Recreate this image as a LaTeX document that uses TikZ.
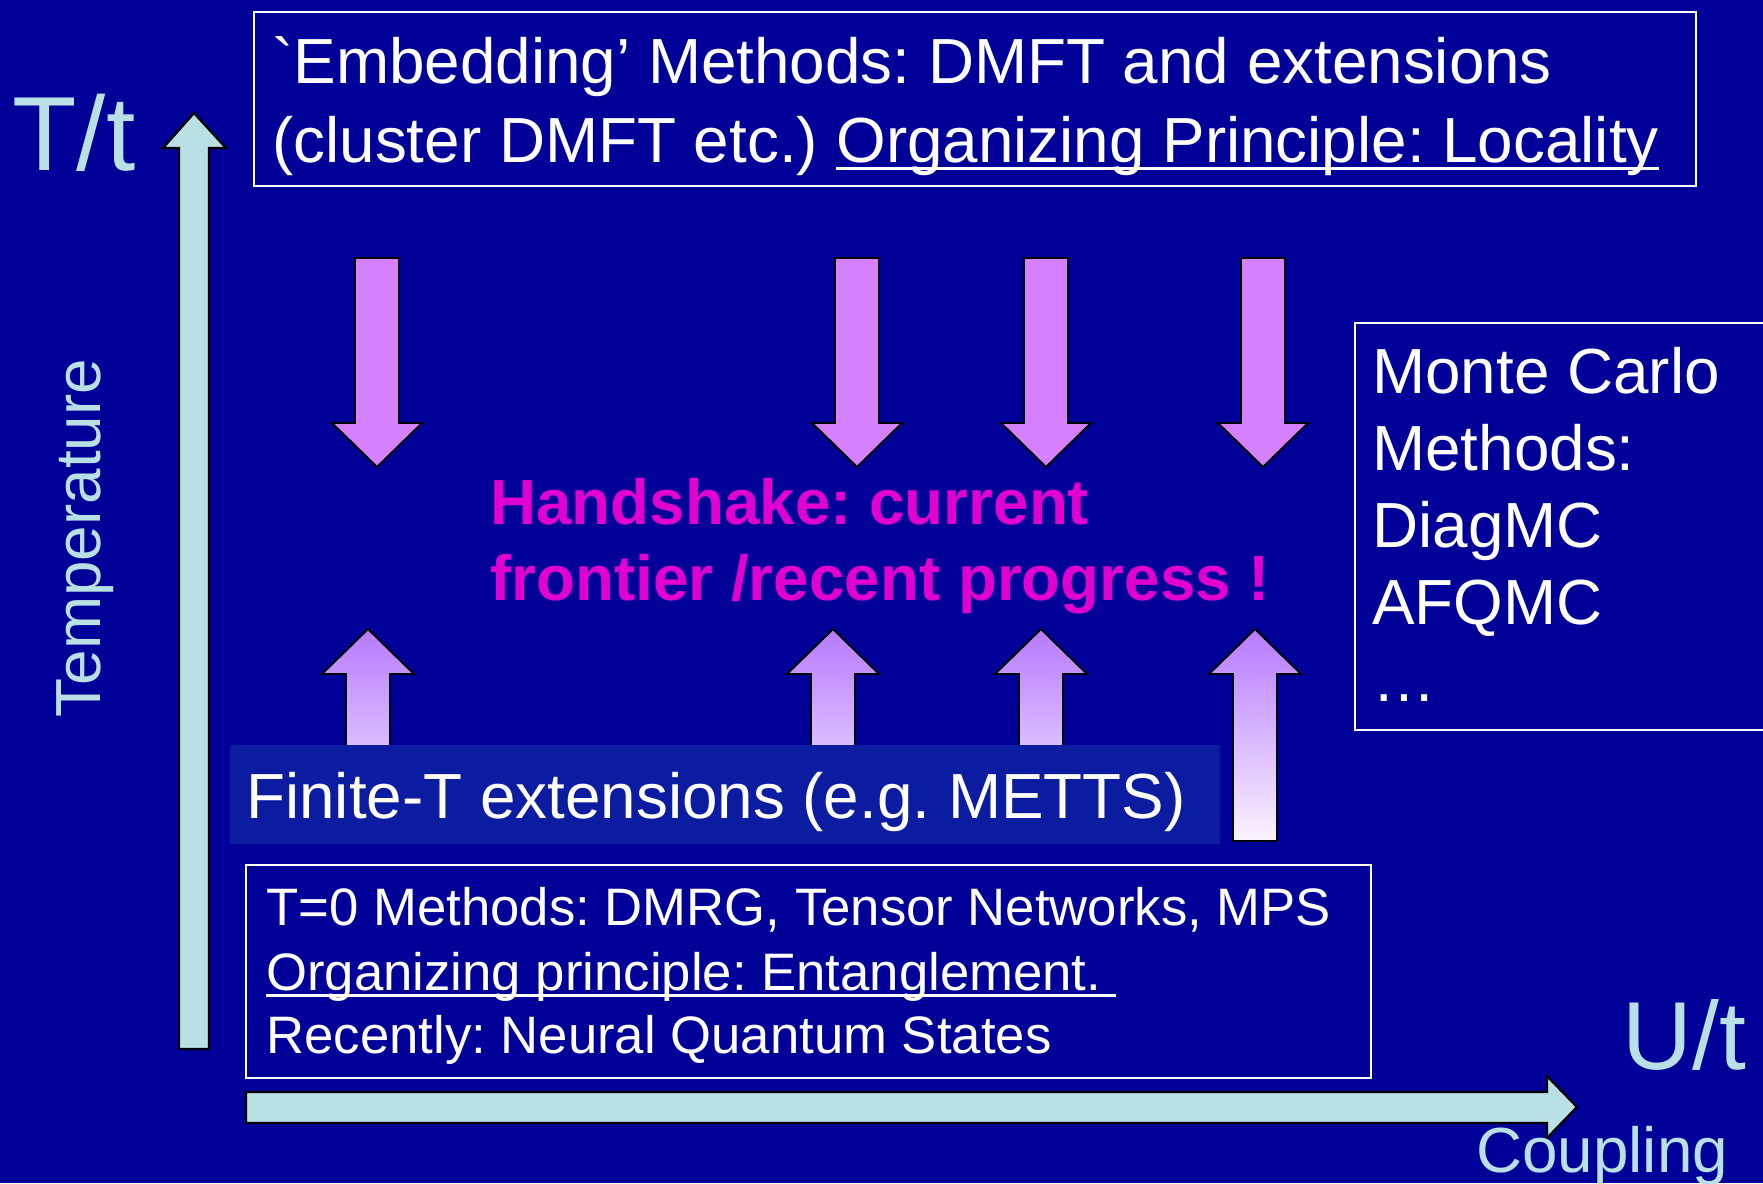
\documentclass[tikz,border=0pt]{standalone}
\usepackage{fontspec}
\setmainfont{Liberation Sans}
\usetikzlibrary{positioning}
\frenchspacing

\definecolor{slidebg}{RGB}{0,0,153}
\definecolor{axiscyan}{RGB}{185,224,228}
\definecolor{handpink}{RGB}{224,0,208}
\definecolor{downpink}{RGB}{213,128,255}
\definecolor{uptop}{RGB}{182,122,255}
\definecolor{upbot}{RGB}{250,243,255}
\definecolor{finitebg}{RGB}{12,28,160}

\tikzset{
  txt/.style={inner sep=0pt, text=white, anchor=base west, font=\fontsize{36.3}{43}\selectfont},
  smalltxt/.style={txt, font=\fontsize{30}{36}\selectfont},
  hand/.style={txt, text=handpink, font=\fontsize{36.3}{43}\selectfont\bfseries},
  axislabel/.style={inner sep=0pt, text=axiscyan, anchor=base west},
  framebox/.style={draw=white, line width=1pt},
  axisarrow/.style={fill=axiscyan, draw=black, line width=1.3pt},
  downarr/.style={fill=downpink, draw=black, line width=1.1pt},
  uparr/.style={top color=uptop, bottom color=upbot, draw=black, line width=1.1pt},
  underl/.style={draw=white, line width=1.6pt}
}

\begin{document}
\begin{tikzpicture}[x=0.02cm, y=-0.02cm]
            \useasboundingbox (0,0) rectangle (1763,1183);
            \fill[slidebg] (0,0) rectangle (1763,1183); % slide background

            % arrows coming up from the T=0 side, partly hidden by the finite-T strip
            \foreach \cx in {368,833,1041,1255}
                  \draw[uparr] (\cx-22,841) -- (\cx-22,674) -- (\cx-46,674) -- (\cx,629) -- (\cx+46,674) -- (\cx+22,674) -- (\cx+22,841) -- cycle;
            \fill[finitebg] (230,745) rectangle (1220,844);
                  \node[txt] (finiteT) at (246,818) {Finite-T extensions (e.g. METTS)};

            % arrows coming down from the embedding box
            \foreach \cx in {377,857,1046,1263}
                  \draw[downarr] (\cx-22,258) -- (\cx+22,258) -- (\cx+22,423) -- (\cx+45,423) -- (\cx,467) -- (\cx-45,423) -- (\cx-22,423) -- cycle;

            \draw[framebox] (254,12) rectangle (1696,186); % embedding box
                  \node[txt] (embed) at (272,83) {\textasciigrave Embedding’ Methods: DMFT and extensions};
                  \node[txt] (cluster) at (272,162) {(cluster DMFT etc.)};
                  \node[txt, base right=10.1pt of cluster] (locality) {Organizing Principle: Locality};
                  \draw[underl] ([yshift=-3.6pt]locality.base west) -- ([yshift=-3.6pt]locality.base east);

            \draw[framebox] (1355,323) rectangle (1790,730); % Monte Carlo box, runs off the right edge
                  \foreach \line [count=\i] in {Monte Carlo, Methods:, DiagMC, AFQMC, …}
                        \node[txt] (mc\i) at (1372,316+77*\i) {\line};

            \draw[framebox] (246,865) rectangle (1371,1078); % T=0 box
                  \node[smalltxt] (tzero) at (266,925) {T=0 Methods: DMRG, Tensor Networks, MPS};
                  \node[smalltxt] (entangle) at (266,990) {Organizing principle: Entanglement.};
                  \draw[underl] ([yshift=-3.2pt]entangle.base west) -- ([xshift=8.3pt,yshift=-3.2pt]entangle.base east);
                  \node[smalltxt] (neural) at (266,1053) {Recently: Neural Quantum States};

            \node[hand] (hand1) at (490,524) {Handshake: current};
            \node[hand] (hand2) at (490,600) {frontier /recent progress !};

            % the two axes
            \draw[axisarrow] (179,1049) -- (179,148) -- (163,148) -- (194,113) -- (226,148) -- (209,148) -- (209,1049) -- cycle;
            \draw[axisarrow] (246,1092) -- (1547,1092) -- (1547,1076) -- (1577,1107) -- (1547,1138) -- (1547,1123) -- (246,1123) -- cycle;
                  \node[axislabel, font=\fontsize{60}{60}\selectfont] (Tt) at (12,170) {T/t};
                  \node[axislabel, font=\fontsize{36.3}{43}\selectfont, anchor=base, rotate=90] (temp) at (100,538) {Temperature};
                  \node[axislabel, font=\fontsize{55}{55}\selectfont] (Ut) at (1622,1069) {U/t};
                  \node[axislabel, font=\fontsize{36.3}{43}\selectfont] (coupling) at (1476,1172) {Coupling};
\end{tikzpicture}
\end{document}
